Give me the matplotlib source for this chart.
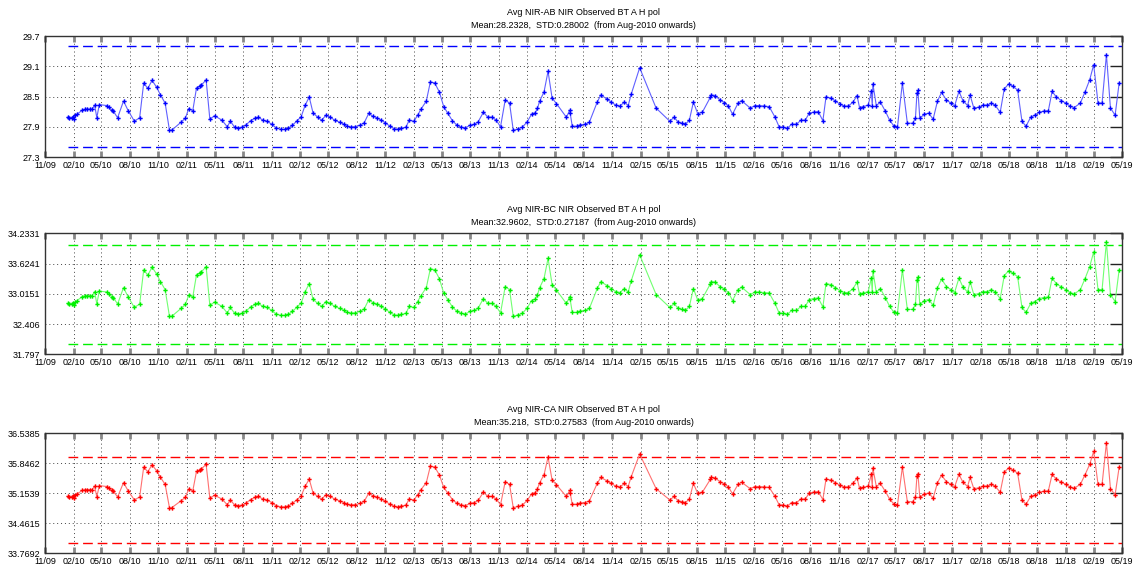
import matplotlib
matplotlib.use('Agg')
import matplotlib.pyplot as plt
import matplotlib.dates as mdates
import pandas as pd

# sample dates (shared by all three channels)
dates = [
    '2010-01-13', '2010-01-19', '2010-01-26', '2010-01-30', '2010-02-02', '2010-02-07', '2010-02-13', '2010-03-01',
    '2010-03-11', '2010-03-18', '2010-03-25', '2010-04-02', '2010-04-10', '2010-04-17', '2010-04-25', '2010-05-20',
    '2010-05-25', '2010-06-04', '2010-06-09', '2010-06-23', '2010-07-12', '2010-07-27', '2010-08-16', '2010-09-02',
    '2010-09-15', '2010-09-28', '2010-10-12', '2010-10-27', '2010-11-08', '2010-11-23', '2010-12-07', '2010-12-14',
    '2011-01-13', '2011-01-27', '2011-02-07', '2011-02-20', '2011-03-04', '2011-03-14', '2011-03-20', '2011-04-04',
    '2011-04-16', '2011-05-01', '2011-05-25', '2011-06-11', '2011-06-21', '2011-07-05', '2011-07-15',
    '2011-07-29', '2011-08-09', '2011-08-25', '2011-09-08', '2011-09-19', '2011-10-04', '2011-10-18', '2011-11-01',
    '2011-11-15', '2011-12-01', '2011-12-14', '2011-12-25', '2012-01-07', '2012-01-20', '2012-02-04', '2012-02-17',
    '2012-03-01', '2012-03-13', '2012-03-28', '2012-04-10', '2012-04-24', '2012-05-08', '2012-05-22', '2012-06-07',
    '2012-06-21', '2012-06-30', '2012-07-13', '2012-07-27', '2012-08-11', '2012-08-25', '2012-09-09', '2012-09-21',
    '2012-10-05', '2012-10-19', '2012-11-01', '2012-11-16', '2012-11-30', '2012-12-12', '2012-12-23', '2013-01-06',
    '2013-01-17', '2013-02-01', '2013-02-13', '2013-02-24',
    '2013-03-13', '2013-03-26', '2013-04-09', '2013-04-24', '2013-05-08', '2013-05-21', '2013-06-05', '2013-06-20',
    '2013-07-04', '2013-07-17', '2013-08-01', '2013-08-15', '2013-08-27', '2013-09-13', '2013-09-27', '2013-10-11',
    '2013-10-24', '2013-11-07', '2013-11-22', '2013-12-06', '2013-12-18', '2014-01-02', '2014-01-16', '2014-02-01',
    '2014-02-15', '2014-02-27', '2014-03-06', '2014-03-13', '2014-03-27', '2014-04-09', '2014-04-22', '2014-05-06',
    '2014-06-07', '2014-06-18', '2014-06-19', '2014-06-26', '2014-07-10', '2014-07-22', '2014-08-06', '2014-08-20',
    '2014-09-15', '2014-09-26',
    '2014-10-16', '2014-10-29', '2014-11-13', '2014-11-26', '2014-12-11', '2014-12-23', '2015-01-02', '2015-01-29',
    '2015-03-23', '2015-05-06', '2015-05-20', '2015-06-02', '2015-06-15', '2015-06-25', '2015-07-08', '2015-07-21',
    '2015-08-04', '2015-08-19', '2015-09-14', '2015-09-16', '2015-09-29', '2015-10-15', '2015-10-29', '2015-11-11',
    '2015-11-24', '2015-12-12', '2015-12-23', '2016-01-20', '2016-02-04', '2016-02-18', '2016-03-05', '2016-03-21',
    '2016-04-08', '2016-04-22',
    '2016-05-05', '2016-05-19', '2016-06-01', '2016-06-17', '2016-07-01', '2016-07-15', '2016-07-28', '2016-08-11',
    '2016-08-26', '2016-09-10', '2016-09-20', '2016-10-06', '2016-10-20', '2016-11-04', '2016-11-18', '2016-12-01',
    '2016-12-16', '2016-12-29', '2017-01-06', '2017-01-18', '2017-02-03', '2017-02-13', '2017-02-16', '2017-02-18',
    '2017-03-01', '2017-03-14', '2017-03-30', '2017-04-13', '2017-04-26', '2017-05-08', '2017-05-24', '2017-06-09',
    '2017-06-26', '2017-07-05', '2017-07-10', '2017-07-13', '2017-07-19', '2017-08-03', '2017-08-17', '2017-08-31',
    '2017-09-14', '2017-09-27', '2017-10-13', '2017-10-27', '2017-11-08', '2017-11-22',
    '2017-12-05', '2017-12-20', '2017-12-28', '2018-01-09', '2018-01-26', '2018-02-08', '2018-02-22', '2018-03-06',
    '2018-03-18', '2018-04-04', '2018-04-17', '2018-05-01', '2018-05-15', '2018-05-30', '2018-06-13', '2018-06-26',
    '2018-07-11', '2018-07-24', '2018-08-08', '2018-08-22', '2018-09-06', '2018-09-18', '2018-10-02', '2018-10-18',
    '2018-11-01', '2018-11-15', '2018-11-28', '2018-12-18', '2019-01-02', '2019-01-17', '2019-01-30', '2019-02-13',
    '2019-02-26', '2019-03-12', '2019-03-25', '2019-04-09', '2019-04-22',
]

nir_ab = [
    28.09, 28.07, 28.07, 28.10, 28.06, 28.13, 28.15, 28.23, 28.25, 28.25, 28.25, 28.25, 28.33, 28.08, 28.34, 28.32,
    28.29, 28.23, 28.21, 28.08, 28.41, 28.22, 28.01, 28.08, 28.77, 28.66, 28.82, 28.68, 28.53, 28.37, 27.83, 27.83,
    27.99, 28.07, 28.26, 28.22, 28.67, 28.70, 28.73, 28.83, 28.05, 28.12, 28.03, 27.90, 28.01, 27.89, 27.88,
    27.89, 27.93, 28.02, 28.07, 28.09, 28.03, 28.01, 27.95, 27.88, 27.85, 27.85, 27.87, 27.93, 28.01, 28.10, 28.33,
    28.49, 28.18, 28.09, 28.03, 28.13, 28.09, 28.03, 27.99, 27.95, 27.91, 27.90, 27.90, 27.93, 27.98, 28.17, 28.11,
    28.08, 28.03, 27.98, 27.91, 27.86, 27.85, 27.87, 27.89, 28.03, 28.01, 28.13, 28.25,
    28.41, 28.79, 28.77, 28.59, 28.30, 28.17, 28.02, 27.93, 27.89, 27.88, 27.93, 27.95, 28.00, 28.19, 28.09, 28.09,
    28.03, 27.90, 28.43, 28.37, 27.83, 27.86, 27.89, 28.00, 28.15, 28.18, 28.27, 28.41, 28.59, 29.00, 28.47, 28.36,
    28.09, 28.23, 28.18, 27.91, 27.91, 27.94, 27.95, 27.99, 28.40, 28.53,
    28.45, 28.39, 28.33, 28.31, 28.39, 28.32, 28.55, 29.07, 28.27, 28.01, 28.09, 27.99, 27.97, 27.95, 28.03, 28.39,
    28.16, 28.19, 28.49, 28.53, 28.52, 28.43, 28.38, 28.31, 28.15, 28.37, 28.42, 28.27, 28.32, 28.32, 28.31, 28.30,
    28.10, 27.90,
    27.89, 27.87, 27.95, 27.95, 28.03, 28.03, 28.17, 28.19, 28.20, 28.02, 28.49, 28.47, 28.41, 28.35, 28.31, 28.31,
    28.39, 28.52, 28.28, 28.30, 28.33, 28.60, 28.32, 28.75, 28.32, 28.39, 28.21, 28.03, 27.92, 27.89, 28.77, 27.97,
    27.97, 28.07, 28.57, 28.62, 28.07, 28.15, 28.17, 28.05, 28.41, 28.58, 28.43, 28.37, 28.31, 28.60,
    28.42, 28.32, 28.53, 28.27, 28.29, 28.33, 28.33, 28.37, 28.33, 28.19, 28.65, 28.75, 28.70, 28.63, 28.01, 27.91,
    28.09, 28.13, 28.19, 28.21, 28.22, 28.60, 28.49, 28.42, 28.37, 28.31, 28.28, 28.37, 28.59, 28.83, 29.13, 28.37,
    28.37, 29.33, 28.27, 28.13, 28.77,
]

nir_bc = [
    32.82, 32.80, 32.80, 32.83, 32.79, 32.86, 32.88, 32.96, 32.98, 32.98, 32.98, 32.98, 33.06, 32.81, 33.07, 33.05,
    33.02, 32.96, 32.94, 32.81, 33.14, 32.95, 32.74, 32.81, 33.50, 33.39, 33.55, 33.41, 33.26, 33.10, 32.56, 32.56,
    32.72, 32.80, 32.99, 32.95, 33.40, 33.43, 33.46, 33.56, 32.78, 32.85, 32.76, 32.63, 32.74, 32.62, 32.61,
    32.62, 32.66, 32.75, 32.80, 32.82, 32.76, 32.74, 32.68, 32.61, 32.58, 32.58, 32.60, 32.66, 32.74, 32.83, 33.06,
    33.22, 32.91, 32.82, 32.76, 32.86, 32.82, 32.76, 32.72, 32.68, 32.64, 32.63, 32.63, 32.66, 32.71, 32.90, 32.84,
    32.81, 32.76, 32.71, 32.64, 32.59, 32.58, 32.60, 32.62, 32.76, 32.74, 32.86, 32.98,
    33.14, 33.52, 33.50, 33.32, 33.03, 32.90, 32.75, 32.66, 32.62, 32.61, 32.66, 32.68, 32.73, 32.92, 32.82, 32.82,
    32.76, 32.63, 33.16, 33.10, 32.56, 32.59, 32.62, 32.73, 32.88, 32.91, 33.00, 33.14, 33.32, 33.73, 33.20, 33.09,
    32.82, 32.96, 32.91, 32.64, 32.64, 32.67, 32.68, 32.72, 33.13, 33.26,
    33.18, 33.12, 33.06, 33.04, 33.12, 33.05, 33.28, 33.80, 33.00, 32.74, 32.82, 32.72, 32.70, 32.68, 32.76, 33.12,
    32.89, 32.92, 33.22, 33.26, 33.25, 33.16, 33.11, 33.04, 32.88, 33.10, 33.15, 33.00, 33.05, 33.05, 33.04, 33.03,
    32.83, 32.63,
    32.62, 32.60, 32.68, 32.68, 32.76, 32.76, 32.90, 32.92, 32.93, 32.75, 33.22, 33.20, 33.14, 33.08, 33.04, 33.04,
    33.12, 33.25, 33.01, 33.03, 33.06, 33.33, 33.05, 33.48, 33.05, 33.12, 32.94, 32.76, 32.65, 32.62, 33.50, 32.70,
    32.70, 32.80, 33.30, 33.35, 32.80, 32.88, 32.90, 32.78, 33.14, 33.31, 33.16, 33.10, 33.04, 33.33,
    33.15, 33.05, 33.26, 33.00, 33.02, 33.06, 33.06, 33.10, 33.06, 32.92, 33.38, 33.48, 33.43, 33.36, 32.74, 32.64,
    32.82, 32.86, 32.92, 32.94, 32.95, 33.33, 33.22, 33.15, 33.10, 33.04, 33.01, 33.10, 33.32, 33.56, 33.86, 33.10,
    33.10, 34.06, 33.00, 32.86, 33.50,
]

nir_ca = [
    35.08, 35.06, 35.06, 35.09, 35.05, 35.12, 35.14, 35.22, 35.24, 35.24, 35.24, 35.24, 35.32, 35.07, 35.33, 35.31,
    35.28, 35.22, 35.20, 35.07, 35.40, 35.21, 35.00, 35.07, 35.76, 35.65, 35.81, 35.67, 35.52, 35.36, 34.82, 34.82,
    34.98, 35.06, 35.25, 35.21, 35.66, 35.69, 35.72, 35.82, 35.04, 35.11, 35.02, 34.89, 35.00, 34.88, 34.87,
    34.88, 34.92, 35.01, 35.06, 35.08, 35.02, 35.00, 34.94, 34.87, 34.84, 34.84, 34.86, 34.92, 35.00, 35.09, 35.32,
    35.48, 35.17, 35.08, 35.02, 35.12, 35.08, 35.02, 34.98, 34.94, 34.90, 34.89, 34.89, 34.92, 34.97, 35.16, 35.10,
    35.07, 35.02, 34.97, 34.90, 34.85, 34.84, 34.86, 34.88, 35.02, 35.00, 35.12, 35.24,
    35.40, 35.78, 35.76, 35.58, 35.29, 35.16, 35.01, 34.92, 34.88, 34.87, 34.92, 34.94, 34.99, 35.18, 35.08, 35.08,
    35.02, 34.89, 35.42, 35.36, 34.82, 34.85, 34.88, 34.99, 35.14, 35.17, 35.26, 35.40, 35.58, 35.99, 35.46, 35.35,
    35.08, 35.22, 35.17, 34.90, 34.90, 34.93, 34.94, 34.98, 35.39, 35.52,
    35.44, 35.38, 35.32, 35.30, 35.38, 35.31, 35.54, 36.06, 35.26, 35.00, 35.08, 34.98, 34.96, 34.94, 35.02, 35.38,
    35.15, 35.18, 35.48, 35.52, 35.51, 35.42, 35.37, 35.30, 35.14, 35.36, 35.41, 35.26, 35.31, 35.31, 35.30, 35.29,
    35.09, 34.89,
    34.88, 34.86, 34.94, 34.94, 35.02, 35.02, 35.16, 35.18, 35.19, 35.01, 35.48, 35.46, 35.40, 35.34, 35.30, 35.30,
    35.38, 35.51, 35.27, 35.29, 35.32, 35.59, 35.31, 35.74, 35.31, 35.38, 35.20, 35.02, 34.91, 34.88, 35.76, 34.96,
    34.96, 35.06, 35.56, 35.61, 35.06, 35.14, 35.16, 35.04, 35.40, 35.57, 35.42, 35.36, 35.30, 35.59,
    35.41, 35.31, 35.52, 35.26, 35.28, 35.32, 35.32, 35.36, 35.32, 35.18, 35.64, 35.74, 35.69, 35.62, 35.00, 34.90,
    35.08, 35.12, 35.18, 35.20, 35.21, 35.59, 35.48, 35.41, 35.36, 35.30, 35.27, 35.36, 35.58, 35.82, 36.12, 35.36,
    35.36, 36.32, 35.26, 35.12, 35.76,
]

titles = [
    'Avg NIR-AB NIR Observed BT A H pol\nMean:28.2328,  STD:0.28002  (from Aug-2010 onwards)',
    'Avg NIR-BC NIR Observed BT A H pol\nMean:32.9602,  STD:0.27187  (from Aug-2010 onwards)',
    'Avg NIR-CA NIR Observed BT A H pol\nMean:35.218,  STD:0.27583  (from Aug-2010 onwards)',
]
ytick_labels = [
    ['27.3', '27.9', '28.5', '29.1', '29.7'],
    ['31.797', '32.406', '33.0151', '33.6241', '34.2331'],
    ['33.7692', '34.4615', '35.1539', '35.8462', '36.5385'],
]
limits = [(27.5, 29.5), (32.0, 34.0), (34.0, 36.0)]
colors = ['#0000ff', '#00f000', '#ff0000']
line_colors = ['#6060ff', '#70ff70', '#ff7070']
series = [nir_ab, nir_bc, nir_ca]

plt.rcParams['font.family'] = ['Liberation Sans', 'DejaVu Sans']

fig = plt.figure(figsize=(11.38, 5.72), dpi=100)
rects = [
    [0.0395, 0.7255, 0.9464, 0.2115],
    [0.0395, 0.3806, 0.9464, 0.2115],
    [0.0395, 0.0327, 0.9464, 0.2098],
]

t = pd.to_datetime(dates)
xmin = pd.Timestamp('2009-11-01')
xmax = pd.Timestamp('2019-05-01')

for i in range(3):
    ax = fig.add_axes(rects[i])
    yt = [float(s) for s in ytick_labels[i]]

    ax.plot(t, series[i], '-', color=line_colors[i], lw=0.8, zorder=3)
    ax.plot(t, series[i], 'P', color=colors[i], ms=3.1, mew=0, zorder=4)
    ax.hlines(list(limits[i]), t[0], xmax, colors=colors[i],
              linestyles=(0, (7, 3.5)), lw=1.0, zorder=2)

    ax.set_xlim(xmin, xmax)
    ax.set_ylim(yt[0], yt[-1])
    ax.set_yticks(yt)
    ax.set_yticklabels(ytick_labels[i])
    ax.xaxis.set_major_locator(mdates.MonthLocator(bymonth=[2, 5, 8, 11]))
    ax.xaxis.set_major_formatter(mdates.DateFormatter('%m/%y'))

    ax.grid(True, linestyle=(0, (1, 3)), color='#444444', lw=0.7, zorder=1)
    ax.tick_params(axis='x', direction='in', length=4.5, width=2, color='#888888',
                   top=True, labelsize=6.5, pad=3)
    ax.tick_params(axis='y', direction='in', length=8.6, width=1, color='#222222',
                   left=False, right=True, labelsize=6.5, pad=3.5)
    for sp in ax.spines.values():
        sp.set_color('#333333')
        sp.set_linewidth(1)

    ax.set_title(titles[i], fontsize=6.5, pad=6, linespacing=1.5)

fig.savefig('out.png', dpi=100)
